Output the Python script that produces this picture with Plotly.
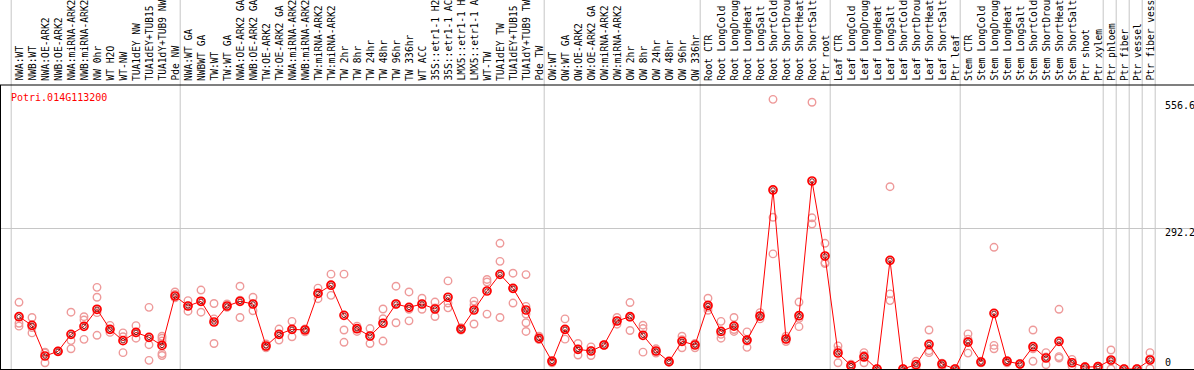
import plotly.graph_objects as go

gene_name = "Potri.014G113200"

categories = [
    "NWA:WT", "NWB:WT", "NWA:OE-ARK2", "NWB:OE-ARK2", "NWA:miRNA-ARK2", "NWB:miRNA-ARK2",
    "NW 0hr", "WT H2O", "WT-NW", "TUA1dEY NW", "TUA1dEY+TUB15", "TUA1dY+TUB9 NW", "Pde NW",
    "NWA:WT GA", "NWBWT GA", "TW:WT", "TW:WT GA", "NWA:OE-ARK2 GA", "NWB:OE-ARK2 GA",
    "TW:OE-ARK2", "TW:OE-ARK2 GA", "NWA:miRNA-ARK2", "NWB:miRNA-ARK2", "TW:miRNA-ARK2",
    "TW:miRNA-ARK2", "TW 2hr", "TW 8hr", "TW 24hr", "TW 48hr", "TW 96hr", "TW 336hr",
    "WT ACC", "35S::etr1-1 H2", "35S::etr1-1 AC", "LMX5::etr1-1 H", "LMX5::etr1-1 A",
    "WT-TW", "TUA1dEY TW", "TUA1dEY+TUB15", "TUA1dY+TUB9 TW", "Pde TW",
    "OW:WT", "OW:WT GA", "OW:OE-ARK2", "OW:OE-ARK2 GA", "OW:miRNA-ARK2", "OW:miRNA-ARK2",
    "OW 2hr", "OW 8hr", "OW 24hr", "OW 48hr", "OW 96hr", "OW 336hr",
    "Root CTR", "Root LongCold", "Root LongDroug", "Root LongHeat", "Root LongSalt",
    "Root ShortCold", "Root ShortDrou", "Root ShortHeat", "Root ShortSalt", "Ptr root",
    "Leaf CTR", "Leaf LongCold", "Leaf LongDroug", "Leaf LongHeat", "Leaf LongSalt",
    "Leaf ShortCold", "Leaf ShortDrou", "Leaf ShortHeat", "Leaf ShortSalt", "Ptr leaf",
    "Stem CTR", "Stem LongCold", "Stem LongDroug", "Stem LongHeat", "Stem LongSalt",
    "Stem ShortCold", "Stem ShortDrou", "Stem ShortHeat", "Stem ShortSalt", "Ptr shoot",
    "Ptr xylem", "Ptr phloem", "Ptr fiber", "Ptr vessel", "Ptr fiber vess",
]

group_sizes = [13, 28, 12, 10, 10, 11, 1, 1, 1, 1]

mean_values = [
    108.6, 90.7, 27, 36.7, 72, 88.6, 124, 82.4, 58.8, 76, 65.8, 49, 151.6,
    130.8, 140.6, 97.6, 130.8, 140.6, 135, 47.8, 72, 82.4, 81, 157, 174, 111.5,
    83.7, 68.5, 95, 135, 128, 135, 124.6, 149, 83, 122.5, 162, 196.6, 167.5, 122.5, 63.7,
    16, 82.4, 40.8, 37.4, 49.8, 99.7, 108.6, 70, 37.4, 15.2, 57.5, 49.8,
    132, 78, 89, 60, 110, 371.8, 62.3, 110.7, 390.4, 234.7,
    33.2, 7, 25, 0, 225.7, 0, 9, 51.2, 10.4, 0,
    56, 14.5, 115.6, 16, 10.4, 46.3, 22.8, 57.5, 13, 4, 4.8,
    18.7, 0, 0, 18.7,
]

replicates = [
    [138.5, 95, 89], [107, 86, 75], [35, 13, 33], [36, 37, 37], [118, 59, 42],
    [108.6, 101.8, 61.6], [169.6, 149, 117, 70], [90.7, 82, 76], [75, 34, 67], [90, 64, 75],
    [128, 50.5, 18], [68, 64, 58, 32, 28], [160, 155, 148],
    [142, 131, 120], [164, 140, 118], [136, 104, 53], [135, 128, 129], [172, 107, 143],
    [149, 135, 121], [52, 46, 44], [83, 72, 60], [99, 82, 67], [83, 77, 82],
    [168, 157, 146], [197, 174, 153], [197, 81, 55.4], [89, 84, 78], [84, 68, 53],
    [124.6, 104.5, 58], [172, 135, 96], [160, 124, 100], [147, 135, 124], [139, 127, 109],
    [183, 137, 127], [86, 82, 81], [141, 133, 93.5], [186, 180.7, 114], [261, 223.6, 107],
    [199, 167, 137], [196, 130, 114, 96, 78], [68, 62, 61],
    [13, 18, 17], [104, 82, 62], [53, 41, 29], [46, 38, 28], [50, 49, 50], [107, 100, 93],
    [138, 108, 80], [91, 84, 35], [42, 37, 33], [17, 15, 14], [68, 61, 44], [53, 50, 44],
    [147, 128, 122], [99, 72, 64], [107, 82, 78], [77, 58, 45], [117, 110, 104],
    [560, 315, 239], [68, 62, 57], [139, 105, 88], [554, 314, 301], [261, 221, 219],
    [48, 39, 13], [10, 6, 5], [34, 28, 13], [0, 0, 0], [378.6, 156, 142],
    [0, 0, 0], [16, 9, 2], [81, 38, 34], [12, 10, 6], [0, 0, 0],
    [73, 62, 33], [16, 14, 13], [252.7, 49, 42], [18, 16, 13], [11, 10, 10],
    [81, 42, 16], [34, 25, 9], [124, 25.6, 22.8], [20, 13, 6], [5, 4, 3], [6, 5, 3],
    [39.5, 17, 0], [0, 0, 0], [0, 0, 0], [34, 21, 1],
]

axis_labels = ["556.6", "292.2", "0"]
axis_label_values = [556.6, 292.2, 0]

# ---------------------------------------------------------------
W, H = 1194, 370
top_m, bot_m, left_m = 85, 1, 1
px_per_cat = 13
first_center_px = 19
plot_w = W - left_m
plot_h = H - top_m - bot_m
xmin = -(first_center_px - left_m) / px_per_cat
xmax = xmin + plot_w / px_per_cat
ymax = plot_h * 292.2 / (369 - 228.3)

xs = list(range(len(categories)))
rep_x, rep_y = [], []
for i, reps in enumerate(replicates):
    for v in reps:
        rep_x.append(i)
        rep_y.append(v)

mono = "DejaVu Sans Mono"
pink = "rgb(238,154,154)"
fig = go.Figure()
fig.add_trace(go.Scatter(
    x=rep_x, y=rep_y, mode="markers",
    marker=dict(symbol="circle-open", size=7.5, color=pink,
                line=dict(width=1.4, color=pink)),
    hoverinfo="skip", showlegend=False))
fig.add_trace(go.Scatter(
    x=xs, y=mean_values, mode="lines+markers",
    line=dict(color="#ff0000", width=1),
    marker=dict(symbol="circle-open", size=8, color="#ff0000",
                line=dict(width=1.7, color="#ff0000")),
    showlegend=False))
fig.add_trace(go.Scatter(
    x=xs, y=mean_values, mode="markers",
    marker=dict(symbol="circle-open", size=4.5, color="rgba(110,0,0,0.9)",
                line=dict(width=1, color="rgba(110,0,0,0.9)")),
    hoverinfo="skip", showlegend=False))

shapes = []
b = 0
bounds = [0]
for g in group_sizes:
    b += g
    bounds.append(b)
for bd in bounds:
    shapes.append(dict(type="line", xref="x", yref="paper", x0=bd - 0.6, x1=bd - 0.6,
                       y0=0, y1=1 + top_m / plot_h, layer="below",
                       line=dict(color="#c6c6c6", width=1)))
shapes.append(dict(type="line", xref="paper", yref="paper", x0=-left_m / plot_w, x1=1,
                   y0=1, y1=1, line=dict(color="black", width=1.2), layer="above"))

annotations = []
for i, lab in enumerate(categories):
    annotations.append(dict(
        x=i, y=1 + 2 / plot_h, xref="x", yref="paper", text=lab, showarrow=False,
        textangle=-90, xanchor="center", yanchor="bottom",
        font=dict(family=mono, size=9.6, color="black")))
annotations.append(dict(
    x=(9 - left_m) / plot_w, y=(369 - 97) / plot_h, xref="paper", yref="paper",
    text=gene_name, showarrow=False, xanchor="left", yanchor="middle",
    font=dict(family=mono, size=10, color="#ff0000")))
shifts = [-5, -4, 7]
for lab, v, s in zip(axis_labels, axis_label_values, shifts):
    annotations.append(dict(
        x=(1163 - left_m) / plot_w, y=v, xref="paper", yref="y", text=lab,
        showarrow=False, xanchor="left", yanchor="middle", yshift=s,
        font=dict(family=mono, size=10, color="black")))

fig.update_layout(
    width=W, height=H,
    margin=dict(l=left_m, r=0, t=top_m, b=bot_m, pad=0),
    paper_bgcolor="white", plot_bgcolor="white",
    shapes=shapes, annotations=annotations,
    xaxis=dict(range=[xmin, xmax], showgrid=False, zeroline=False, showticklabels=False,
               ticks="", showline=True, linecolor="black", linewidth=1.2, mirror=False),
    yaxis=dict(range=[0, ymax], tickvals=[292.2], showticklabels=False, ticks="",
               showgrid=True, gridcolor="#c6c6c6", gridwidth=1, zeroline=False,
               showline=True, linecolor="black", linewidth=1.2, mirror=False),
)
fig.write_html("out.html", config={"displayModeBar": False},
               post_script="document.body.style.margin='0';document.body.style.overflow='hidden';")
